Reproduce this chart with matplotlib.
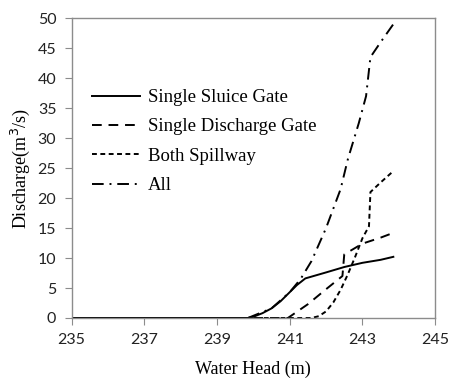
"""Discharge vs water head for the spillway gates."""
import matplotlib
matplotlib.use("Agg")
import matplotlib.pyplot as plt

# data
sluice_x = [235, 239.85, 240.0, 240.25, 240.5, 240.75, 241.0, 241.2, 241.43, 242.0, 242.5, 243.0, 243.5, 243.85]
sluice_y = [0, 0, 0.2, 0.8, 1.6, 2.8, 4.3, 5.5, 6.6, 7.6, 8.5, 9.2, 9.7, 10.2]

discharge_x = [235, 240.95, 241.5, 242.0, 242.45, 242.5, 243.0, 243.5, 243.85]
discharge_y = [0, 0, 2.3, 4.8, 7.0, 10.6, 12.4, 13.4, 14.2]

both_x = [235, 241.6, 241.8, 242.0, 242.2, 242.4, 242.6, 242.8, 243.0, 243.18, 243.22, 243.5, 243.85]
both_y = [0, 0, 0.3, 1.1, 2.6, 4.7, 7.3, 10.2, 13.3, 15.3, 21.0, 22.6, 24.5]

all_x = [235, 239.85, 240.5, 241.0, 241.3, 241.6, 242.0, 242.4, 242.6, 242.9, 243.1, 243.22, 243.5, 243.85]
all_y = [0, 0, 1.6, 4.3, 6.5, 9.5, 15.0, 21.5, 26.5, 32.5, 37.0, 43.5, 46.0, 49.0]

labels = ["Single Sluice Gate", "Single Discharge Gate", "Both Spillway", "All"]
x_ticks = [235, 237, 239, 241, 243, 245]
y_ticks = [0, 5, 10, 15, 20, 25, 30, 35, 40, 45, 50]

fig = plt.figure(figsize=(4.5, 3.79), dpi=100)
ax = fig.add_axes([0.159, 0.161, 0.808, 0.791])

ax.plot(sluice_x, sluice_y, color="black", lw=1.4, ls="-", label=labels[0])
ax.plot(discharge_x, discharge_y, color="black", lw=1.4, ls=(0, (5, 3.5)), label=labels[1])
ax.plot(both_x, both_y, color="black", lw=1.4, ls=(0, (2.5, 1.8)), label=labels[2])
ax.plot(all_x, all_y, color="black", lw=1.4, ls=(0, (6, 3, 1, 3)), label=labels[3])

ax.set_xlim(235, 245); ax.set_ylim(0, 50)
ax.set_xticks(x_ticks); ax.set_yticks(y_ticks)
for s in ax.spines.values(): s.set_color("#8c8c8c"); s.set_linewidth(1.0)
ax.tick_params(axis="both", direction="out", length=5, color="#8c8c8c", labelsize=11.5, pad=6)
for t in ax.get_xticklabels() + ax.get_yticklabels(): t.set_family("Lato"); t.set_color("#222222")

ax.set_xlabel("Water Head (m)", family="Liberation Serif", fontsize=13, labelpad=10)
ax.set_ylabel("Discharge(m$^3$/s)", family="Liberation Serif", fontsize=13, labelpad=4)

leg = ax.legend(loc="upper left", bbox_to_anchor=(0.01, 0.82), frameon=False,
                prop={"family": "Liberation Serif", "size": 13.5},
                handlelength=2.56, labelspacing=0.65, handletextpad=0.43)

fig.savefig("out.png", dpi=100)
